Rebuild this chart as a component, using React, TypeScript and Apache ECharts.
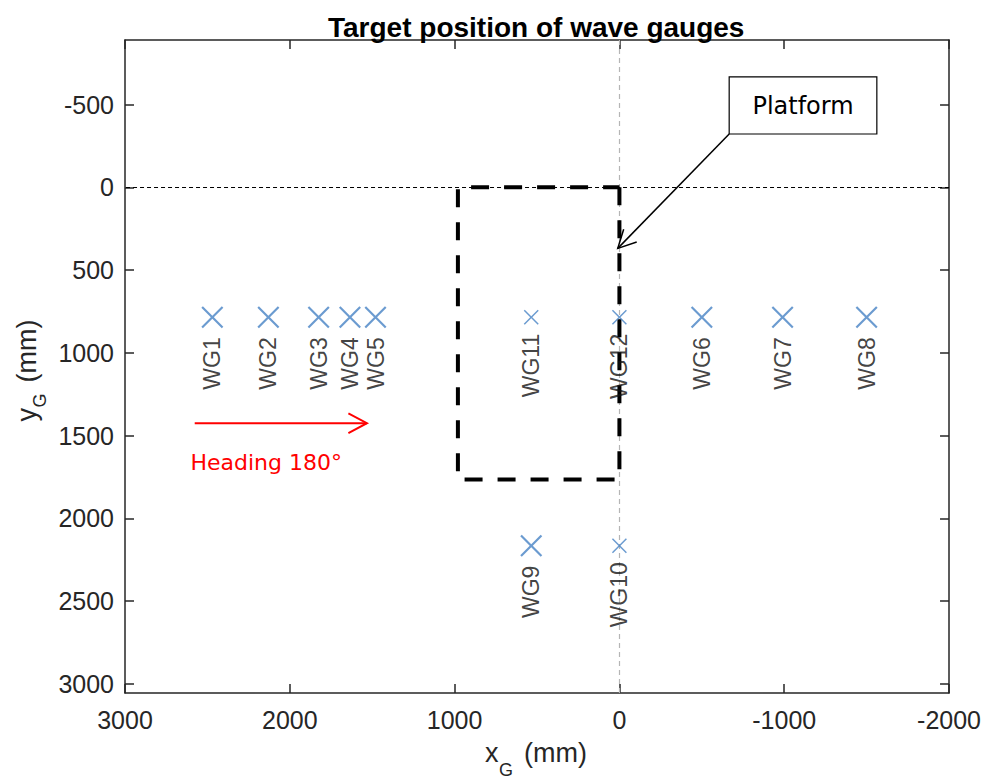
import React, { useEffect, useRef } from "react";
import * as echarts from "echarts";

// ---------- data ----------
const gaugeNames = ["WG1", "WG2", "WG3", "WG4", "WG5", "WG6", "WG7", "WG8", "WG9", "WG10", "WG11", "WG12"];
const gaugeX = [2470, 2130, 1825, 1635, 1480, -500, -990, -1500, 535, 0, 535, 0];
const gaugeY = [785, 785, 785, 785, 785, 785, 785, 785, 2165, 2165, 785, 785];
const smallMarkerNames = ["WG10", "WG11", "WG12"];

const platformX = [0, 0, 980, 980, 0];
const platformY = [0, 1765, 1765, 0, 0];

const xTicks = [3000, 2000, 1000, 0, -1000, -2000];
const yTicks = [-500, 0, 500, 1000, 1500, 2000, 2500, 3000];

const titleText = "Target position of wave gauges";
const platformLabel = "Platform";
const headingLabel = "Heading 180°";

// annotation anchors in data units (mm)
const platformBoxX = [-666, -1562];
const platformBoxY = [-667, -322];
const platformArrowFrom = [-666, -322];
const platformArrowTo = [10, 369];
const headingArrowX = [2577, 1532];
const headingArrowY = 1425;
const headingTextPos = [2603, 1664];

const FONT = "'Liberation Sans', Arial, Helvetica, sans-serif";
const TAHOMA = "'DejaVu Sans', Verdana, Tahoma, sans-serif";
const AXIS_COLOR = "#262626";
const MARKER_COLOR = "#4682c4";

const xMarker =
  "path://M1.4,0 L10,8.6 L18.6,0 L20,1.4 L11.4,10 L20,18.6 L18.6,20 L10,11.4 L1.4,20 L0,18.6 L8.6,10 L0,1.4 Z";

function arrowHead(tip: number[], from: number[], len: number, deg: number) {
  const dx = from[0] - tip[0];
  const dy = from[1] - tip[1];
  const d = Math.sqrt(dx * dx + dy * dy);
  const ux = dx / d;
  const uy = dy / d;
  const a = (deg * Math.PI) / 180;
  const rot = (s: number) => [
    tip[0] + len * (ux * Math.cos(s * a) - uy * Math.sin(s * a)),
    tip[1] + len * (ux * Math.sin(s * a) + uy * Math.cos(s * a)),
  ];
  return [rot(1), tip, rot(-1)];
}

export default function App() {
  const ref = useRef<HTMLDivElement>(null);

  useEffect(() => {
    const chart = echarts.init(ref.current!, null, { renderer: "svg" });

    const axisLine = { show: true, onZero: false, lineStyle: { color: AXIS_COLOR, width: 1.5 } };
    const tickStyle = { color: AXIS_COLOR, width: 1.5 };
    const plain = (v: number) => String(v);

    const option: any = {
      animation: false,
      backgroundColor: "#fff",
      title: {
        text: titleText,
        left: 323,
        top: 8,
        textStyle: { fontFamily: FONT, fontWeight: "bold", fontSize: 28, color: "#000" },
      },
      grid: { left: 125, right: 33, top: 40, bottom: 90, containLabel: false },
      xAxis: [
        {
          type: "value",
          min: -2000,
          max: 3000,
          interval: 1000,
          inverse: true,
          position: "bottom",
          axisLine,
          axisTick: { inside: true, length: 9, lineStyle: tickStyle },
          axisLabel: {
            fontSize: 25,
            color: AXIS_COLOR,
            margin: 14,
            fontFamily: FONT,
            customValues: xTicks,
            formatter: plain,
          },
          splitLine: { show: false },
        },
        {
          type: "value",
          min: -2000,
          max: 3000,
          interval: 1000,
          inverse: true,
          position: "top",
          axisLine,
          axisTick: { inside: true, length: 9, lineStyle: tickStyle },
          axisLabel: { show: false },
          splitLine: { show: false },
        },
      ],
      yAxis: [
        {
          type: "value",
          min: -890,
          max: 3055,
          inverse: true,
          position: "left",
          axisLine,
          axisTick: { inside: true, length: 9, lineStyle: tickStyle, customValues: yTicks },
          axisLabel: {
            fontSize: 25,
            color: AXIS_COLOR,
            margin: 11,
            fontFamily: FONT,
            customValues: yTicks,
            formatter: plain,
          },
          splitLine: { show: false },
        },
        {
          type: "value",
          min: -890,
          max: 3055,
          inverse: true,
          position: "right",
          axisLine,
          axisTick: { inside: true, length: 9, lineStyle: tickStyle, customValues: yTicks },
          axisLabel: { show: false, customValues: yTicks },
          splitLine: { show: false },
        },
      ],
      series: [
        {
          name: "zero lines",
          type: "line",
          data: [],
          z: 1,
          markLine: {
            silent: true,
            z: 1,
            symbol: ["none", "none"],
            label: { show: false },
            data: [
              { xAxis: 0, lineStyle: { color: "#b5b5b5", type: [5, 4], width: 1.2 } },
              { yAxis: 0, lineStyle: { color: "#000", type: [4, 3], width: 1.1 } },
            ],
          },
        },
        {
          name: "Platform",
          type: "line",
          data: platformX.map((x, i) => [x, platformY[i]]),
          showSymbol: false,
          symbol: "none",
          clip: false,
          z: 6,
          lineStyle: { color: "#000", width: 4, type: [18, 15] },
        },
        {
          name: "Wave gauges",
          type: "scatter",
          z: 7,
          symbol: xMarker,
          itemStyle: { color: MARKER_COLOR },
          data: gaugeNames.map((n, i) => ({
            name: n,
            value: [gaugeX[i], gaugeY[i]],
            symbolSize: smallMarkerNames.includes(n) ? 15 : 22,
          })),
          label: {
            show: true,
            formatter: (p: any) => p.name,
            position: "bottom",
            distance: 9,
            rotate: 90,
            align: "right",
            verticalAlign: "middle",
            fontSize: 23,
            fontFamily: FONT,
            color: "#111",
          },
        },
      ],
    };

    chart.setOption(option);

    const P = (x: number, y: number) => chart.convertToPixel({ gridIndex: 0 }, [x, y]) as number[];

    const b1 = P(platformBoxX[0], platformBoxY[0]);
    const b2 = P(platformBoxX[1], platformBoxY[1]);
    const aFrom = P(platformArrowFrom[0], platformArrowFrom[1]);
    const aTo = P(platformArrowTo[0], platformArrowTo[1]);
    const hFrom = P(headingArrowX[0], headingArrowY);
    const hTo = P(headingArrowX[1], headingArrowY);
    const hText = P(headingTextPos[0], headingTextPos[1]);
    const gridCenterX = 125 + (984 - 125 - 33) / 2;
    const gridCenterY = 40 + (783 - 40 - 90) / 2;

    const nameStyle = (text: string, size: number) => ({
      text,
      fontSize: size,
      fontFamily: FONT,
      fill: AXIS_COLOR,
      align: "left",
      verticalAlign: "middle",
    });

    const axisName = (main: string, x: number, y: number, rotation: number, subOffset: number) => ({
      type: "group",
      x,
      y,
      rotation,
      z: 10,
      children: [
        { type: "text", x: -53, y: 0, style: nameStyle(main, 27) },
        { type: "text", x: -39, y: subOffset, style: nameStyle("G", 18) },
        { type: "text", x: -14, y: 0, style: nameStyle("(mm)", 27) },
      ],
    });

    chart.setOption({
      graphic: [
        {
          type: "polyline",
          z: 10,
          shape: { points: [aFrom, aTo] },
          style: { stroke: "#000", lineWidth: 1.5, fill: "none" },
        },
        {
          type: "polyline",
          z: 10,
          shape: { points: arrowHead(aTo, aFrom, 20, 27) },
          style: { stroke: "#000", lineWidth: 1.5, fill: "none" },
        },
        {
          type: "rect",
          z: 11,
          shape: {
            x: Math.min(b1[0], b2[0]),
            y: Math.min(b1[1], b2[1]),
            width: Math.abs(b2[0] - b1[0]),
            height: Math.abs(b2[1] - b1[1]),
          },
          style: { fill: "#fff", stroke: "#000", lineWidth: 1.2 },
        },
        {
          type: "text",
          z: 12,
          x: (b1[0] + b2[0]) / 2,
          y: (b1[1] + b2[1]) / 2 + 1,
          style: {
            text: platformLabel,
            fontSize: 24,
            fontFamily: TAHOMA,
            fill: "#000",
            align: "center",
            verticalAlign: "middle",
          },
        },
        {
          type: "polyline",
          z: 10,
          shape: { points: [hFrom, hTo] },
          style: { stroke: "#ff0000", lineWidth: 2, fill: "none" },
        },
        {
          type: "polyline",
          z: 10,
          shape: { points: arrowHead(hTo, hFrom, 21, 28) },
          style: { stroke: "#ff0000", lineWidth: 2, fill: "none" },
        },
        {
          type: "text",
          z: 10,
          x: hText[0],
          y: hText[1],
          style: {
            text: headingLabel,
            fontSize: 22,
            fontFamily: TAHOMA,
            fill: "#ff0000",
            align: "left",
            verticalAlign: "middle",
          },
        },
        axisName("x", gridCenterX, 753, 0, 17),
        axisName("y", 27, gridCenterY + 2, Math.PI / 2, 13),
      ],
    });

    return () => chart.dispose();
  }, []);

  return (
    <div
      ref={ref}
      style={{ position: "fixed", left: 0, top: 0, width: 984, height: 783, background: "#fff" }}
    />
  );
}
